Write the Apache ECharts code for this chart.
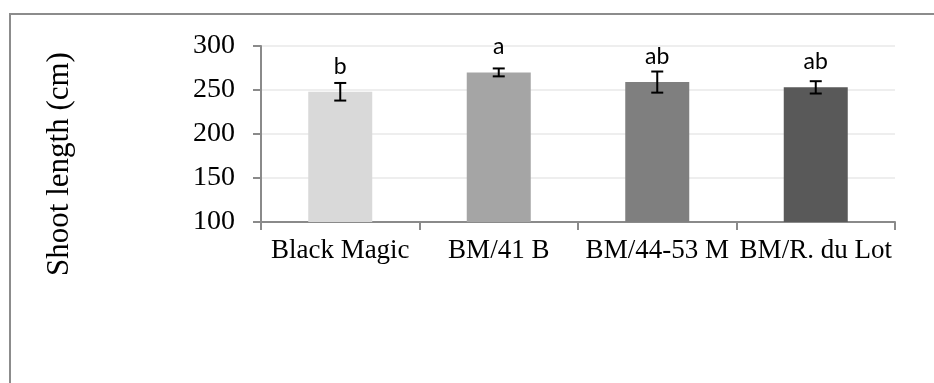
<!DOCTYPE html>
<html>
<head>
<meta charset="utf-8">
<script src="https://cdn.jsdelivr.net/npm/echarts@6/dist/echarts.min.js"></script>
<style>
  html, body { margin: 0; padding: 0; background: #fff; }
  #chart { width: 934px; height: 383px; }
</style>
</head>
<body>
<div id="chart"></div>
<script>
// Shoot length per rootstock combination, mean ± error
const categories = ['Black Magic', 'BM/41 B', 'BM/44-53 M', 'BM/R. du Lot'];
const shootLength = [248, 270, 259, 253];
const errorValues = [10, 4.5, 12, 7];
const groupLetters = ['b', 'a', 'ab', 'ab'];
const barColors = ['#d9d9d9', '#a5a5a5', '#7f7f7f', '#595959'];
const yTicks = { min: 100, max: 300, step: 50 };

const chart = echarts.init(document.getElementById('chart'), null, { renderer: 'canvas' });

const axisGray = '#8a8a8a';

const option = {
  animation: false,
  backgroundColor: '#ffffff',
  grid: { left: 261, right: 39, top: 46, bottom: 161 },
  graphic: [
    {
      type: 'polyline',
      shape: { points: [[10, 400], [10, 14], [940, 14]] },
      style: { stroke: '#8c8c8c', lineWidth: 2, fill: null },
      silent: true
    },
    {
      type: 'text',
      x: 59.5,
      y: 164,
      rotation: Math.PI / 2,
      style: {
        text: 'Shoot length (cm)',
        font: '31px "Liberation Serif", "Times New Roman", serif',
        fill: '#000',
        align: 'center',
        verticalAlign: 'middle'
      }
    }
  ],
  xAxis: {
    type: 'category',
    data: categories,
    boundaryGap: true,
    axisLine: { lineStyle: { color: axisGray, width: 2 } },
    axisTick: { show: true, length: 8, lineStyle: { color: axisGray, width: 2 } },
    axisLabel: {
      margin: 15,
      color: '#000',
      fontFamily: '"Liberation Serif", "Times New Roman", serif',
      fontSize: 27,
      interval: 0
    },
    splitLine: { show: false }
  },
  yAxis: {
    type: 'value',
    min: yTicks.min,
    max: yTicks.max,
    interval: yTicks.step,
    axisLine: { show: true, lineStyle: { color: axisGray, width: 2 } },
    axisTick: { show: true, length: 8, lineStyle: { color: axisGray, width: 2 } },
    axisLabel: {
      margin: 26,
      color: '#000',
      fontFamily: '"Liberation Serif", "Times New Roman", serif',
      fontSize: 28
    },
    splitLine: { show: true, lineStyle: { color: '#eeeeee', width: 2 } }
  },
  series: [
    {
      type: 'bar',
      barWidth: 64,
      data: shootLength.map((v, i) => ({ value: v, itemStyle: { color: barColors[i] } })),
      label: {
        show: true,
        position: 'top',
        distance: 14,
        color: '#000',
        fontFamily: 'Lato, "Noto Sans", sans-serif',
        fontSize: 23,
        formatter: p => groupLetters[p.dataIndex]
      },
      z: 2
    },
    {
      type: 'custom',
      z: 5,
      data: shootLength.map((v, i) => [i, v - errorValues[i], v + errorValues[i]]),
      renderItem: function (params, api) {
        const x = api.coord([api.value(0), api.value(1)])[0];
        const lo = api.coord([api.value(0), api.value(1)])[1];
        const hi = api.coord([api.value(0), api.value(2)])[1];
        const half = 6;
        const style = { stroke: '#000', lineWidth: 2 };
        return {
          type: 'group',
          children: [
            { type: 'line', shape: { x1: x, y1: lo, x2: x, y2: hi }, style },
            { type: 'line', shape: { x1: x - half, y1: hi, x2: x + half, y2: hi }, style },
            { type: 'line', shape: { x1: x - half, y1: lo, x2: x + half, y2: lo }, style }
          ]
        };
      }
    }
  ]
};

chart.setOption(option);
</script>
</body>
</html>
